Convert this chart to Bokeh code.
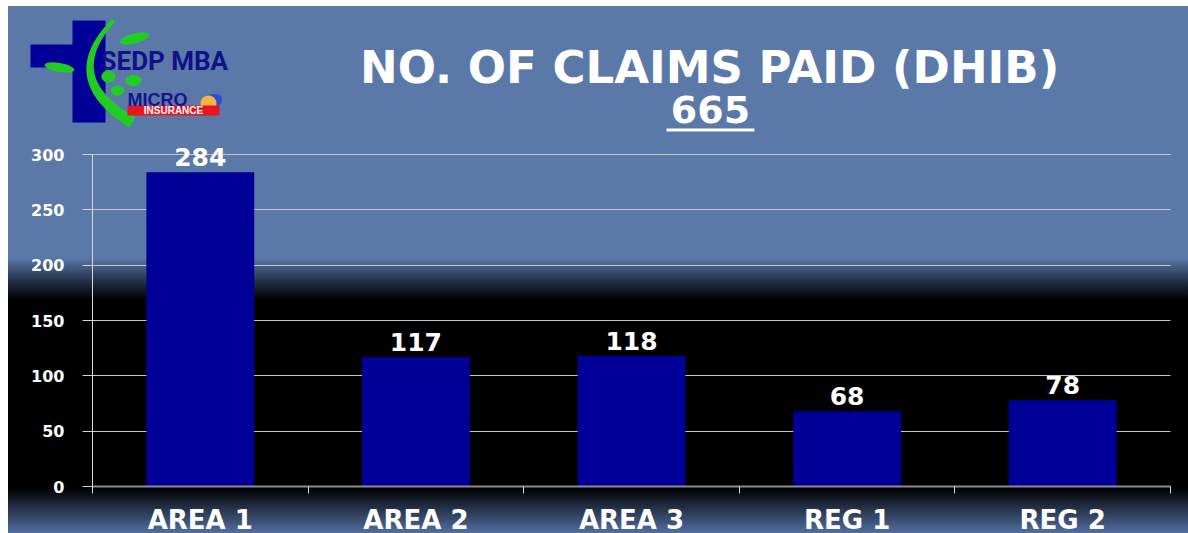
import numpy as np
from bokeh.plotting import figure
from bokeh.models import ColumnDataSource, Range1d, FixedTicker, LabelSet
from bokeh.core.properties import value
from bokeh.embed import file_html
from bokeh.resources import INLINE

# ---------------- data ----------------
categories = ["AREA 1", "AREA 2", "AREA 3", "REG 1", "REG 2"]
claims = [284, 117, 118, 68, 78]
y_ticks = [0, 50, 100, 150, 200, 250, 300]
title_text = "NO. OF CLAIMS  PAID (DHIB)"
total_text = "665"
logo_name = "SEDP MBA"
logo_micro = "MICRO"
logo_ins = "INSURANCE"

# ---------------- style / layout constants ----------------
FONT = "DejaVu Sans"
BAR = "#000099"
BLUE = "#5a78a8"
W, H = 1188, 533
PX_L, PX_R = 92, 1170        # pixel columns of the plot area
PX_B, PX_T = 486, 154        # pixel rows of value 0 and value 300
Y_MAX = 300

n_cat = len(categories)
centers = [i + 0.5 for i in range(n_cat)]
edges = list(range(n_cat + 1))
kx = (PX_R - PX_L) / n_cat
ky = (PX_B - PX_T) / Y_MAX


def dx(px):
    return (px - PX_L) / kx


def dy(py):
    return (PX_B - py) / ky


p = figure(width=W, height=H, x_range=Range1d(dx(0), dx(W)), y_range=Range1d(dy(H), dy(0)),
           min_border=0, output_backend="svg", toolbar_location=None)
p.background_fill_color = None
p.border_fill_color = None
p.outline_line_color = None
p.styles = {"background":
            "linear-gradient(to right, #ffffff 8px, rgba(0,0,0,0) 8px), "
            "linear-gradient(to bottom, #ffffff 6px, " + BLUE + " 6px, " + BLUE + " 258px, "
            "#26334a 280px, #000000 300px, #000000 488px, #536ea0 533px)"}

# y axis (drawn at the left edge of the bars area)
yax = p.yaxis[0]
yax.fixed_location = 0
yax.ticker = FixedTicker(ticks=y_ticks)
yax.bounds = (0, Y_MAX)
yax.major_tick_out = 10
yax.major_tick_in = 0
yax.minor_tick_line_color = None
yax.axis_line_color = "#d8d8d8"
yax.major_tick_line_color = "#d8d8d8"
yax.major_label_standoff = 18
yax.major_label_text_color = "white"
yax.major_label_text_font = FONT
yax.major_label_text_font_style = "bold"
yax.major_label_text_font_size = "16px"

p.ygrid.ticker = FixedTicker(ticks=y_ticks)
p.ygrid.bounds = (0, Y_MAX)
p.ygrid.cross_bounds = (0, n_cat)
p.ygrid.grid_line_color = "#c8c8c8"
p.xgrid.grid_line_color = None

# x axis: labels at category centres, small ticks at category edges
xax = p.xaxis[0]
xax.fixed_location = 0
xax.bounds = (0, n_cat)
xax.ticker = FixedTicker(ticks=centers, minor_ticks=edges)
xax.major_label_overrides = {cx: name for cx, name in zip(centers, categories)}
xax.major_tick_line_color = None
xax.minor_tick_out = 7
xax.minor_tick_in = 0
xax.minor_tick_line_color = "#d8d8d8"
xax.axis_line_color = "#8c8c8c"
xax.axis_line_width = 2
xax.major_label_standoff = 11
xax.major_label_text_color = "white"
xax.major_label_text_font = FONT
xax.major_label_text_font_style = "bold"
xax.major_label_text_font_size = "26px"

# bars
src = ColumnDataSource(dict(x=centers, claims=claims, label=[str(v) for v in claims]))
p.vbar(x="x", top="claims", width=0.5, source=src, fill_color=BAR, line_color=None)
p.add_layout(LabelSet(x="x", y="claims", text="label", source=src, y_offset=6,
                      text_align="center", text_baseline="bottom", text_color="white",
                      text_font=value(FONT), text_font_style="bold", text_font_size="25px"))


# ---------------- header: title and logo (pixel positions) ----------------
def ptext(px, py, text, size, font=FONT, color="white", align="center"):
    s = float(size.replace("px", ""))
    p.text(x=[dx(px)], y=[dy(py - 0.36 * s)], text=[text], text_align=align,
           text_baseline="alphabetic", text_color=color, text_font=value(font),
           text_font_style="bold", text_font_size=size)


def ppoly(X, Y, color):
    p.patch(x=[dx(v) for v in X], y=[dy(v) for v in Y], fill_color=color, line_color=None)


def prect(x0, y0, x1, y1, color):
    ppoly([x0, x1, x1, x0], [y0, y0, y1, y1], color)


def pellipse(cx, cy, rx, ry, ang, color):
    t = np.linspace(0, 2 * np.pi, 40)
    a = np.deg2rad(ang)
    x = rx * np.cos(t)
    y = ry * np.sin(t)
    ppoly(cx + x * np.cos(a) - y * np.sin(a), cy + x * np.sin(a) + y * np.cos(a), color)


ptext(717, 83, title_text, "45px")
ptext(710, 123, total_text, "38px")
prect(666, 128, 754, 131, "white")

# logo (decoration)
prect(72, 20, 105, 122, BAR)
prect(30, 44, 100, 67, BAR)
t = np.linspace(0, 1, 30)
P0, P1, P2 = np.array([113, 20]), np.array([58, 78]), np.array([132, 122])
c = ((1 - t) ** 2)[:, None] * P0 + (2 * (1 - t) * t)[:, None] * P1 + (t ** 2)[:, None] * P2
d = (2 * (1 - t))[:, None] * (P1 - P0) + (2 * t)[:, None] * (P2 - P1)
nrm = np.stack([-d[:, 1], d[:, 0]], axis=1)
nrm = nrm / np.linalg.norm(nrm, axis=1)[:, None]
wd = 2 + 4 * t
pts = np.vstack([c + nrm * wd[:, None], (c - nrm * wd[:, None])[::-1]])
GREEN = "#22cc22"
ppoly(pts[:, 0], pts[:, 1], GREEN)
pellipse(134, 38, 15, 5, -15, GREEN)
pellipse(59, 67, 15, 4.5, 10, GREEN)
pellipse(108, 76, 7, 6, 0, GREEN)
pellipse(133, 80, 8, 5.5, 0, GREEN)
pellipse(117, 90, 7, 5, 0, GREEN)
ptext(100, 70, logo_name, "26px", font="Roboto", color="#10108a", align="left")
pellipse(211, 101, 11, 7, -20, "#2850d0")
pellipse(208, 103, 8, 8, 0, "#f2b347")
prect(127, 105, 219, 115, "#e8141e")
ptext(127, 106, logo_micro, "18px", font="Liberation Sans", color="#14148c", align="left")
ptext(173, 114, logo_ins, "10px", font="Liberation Sans")

open("out.html", "w").write(file_html(p, INLINE))
